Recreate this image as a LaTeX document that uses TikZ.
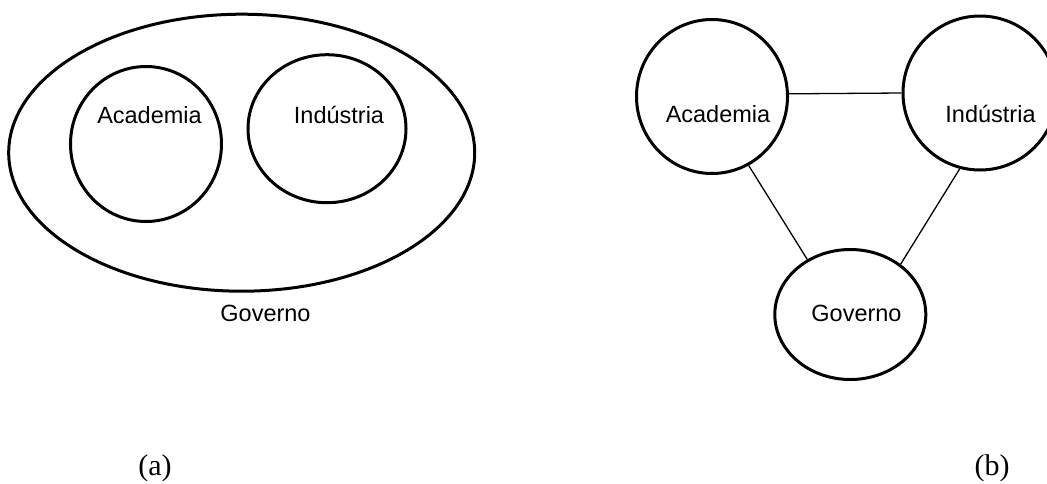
\documentclass[tikz,border=0pt]{standalone}
\usepackage{fontspec}
\setmainfont{Liberation Serif}
\newfontfamily\sanslabel{Liberation Sans}
\usetikzlibrary{positioning, shapes.geometric}
\tikzset{
  ring/.style={draw, ellipse, line width=3pt, inner sep=0pt},
  word/.style={font=\sanslabel\fontsize{23.5}{28}\selectfont, anchor=base, inner sep=0pt},
  tag/.style={font=\fontsize{30}{36}\selectfont, anchor=base, inner sep=0pt},
  link/.style={line width=1.3pt}
}

\begin{document}
\begin{tikzpicture}[x=1pt, y=-1pt]
\useasboundingbox (0,0) rectangle (1047,483);
% left: the two circles inside governo
\node[ring, minimum width=466pt, minimum height=277pt] at (241.7,152.7) (gova) {};
\node[ring, minimum width=151pt, minimum height=155pt] at (146,144) (acada) {};
\node[ring, minimum width=158pt, minimum height=148pt] at (327,128.7) (inda) {};
\node[word] at (149.5,123) (ta) {Academia};
\node[word] at (339,123) (tb) {Indústria};
\node[word] at (265.5,321) (tc) {Governo};
% right: three circles, linked
\node[ring, minimum width=151pt, minimum height=154pt] at (712,96.5) (acadb) {};
\node[ring, minimum width=154pt, minimum height=154pt] at (980,93) (indb) {};
\node[ring, minimum width=151pt, minimum height=130pt] at (850.3,314.5) (govb) {};
\node[word] at (718,122) (td) {Academia};
\node[word] at (990.5,122) (te) {Indústria};
\node[word] at (856.5,321) (tf) {Governo};
\draw[link] (acadb.2.6) -- (indb.180);
\draw[link] (acadb.298) -- (govb.128);
\draw[link] (indb.255.6) -- (govb.45.4);
% captions
\node[tag] at (155,475) (capa) {(a)};
\node[tag] at (992,475) (capb) {(b)};
\end{tikzpicture}
\end{document}
